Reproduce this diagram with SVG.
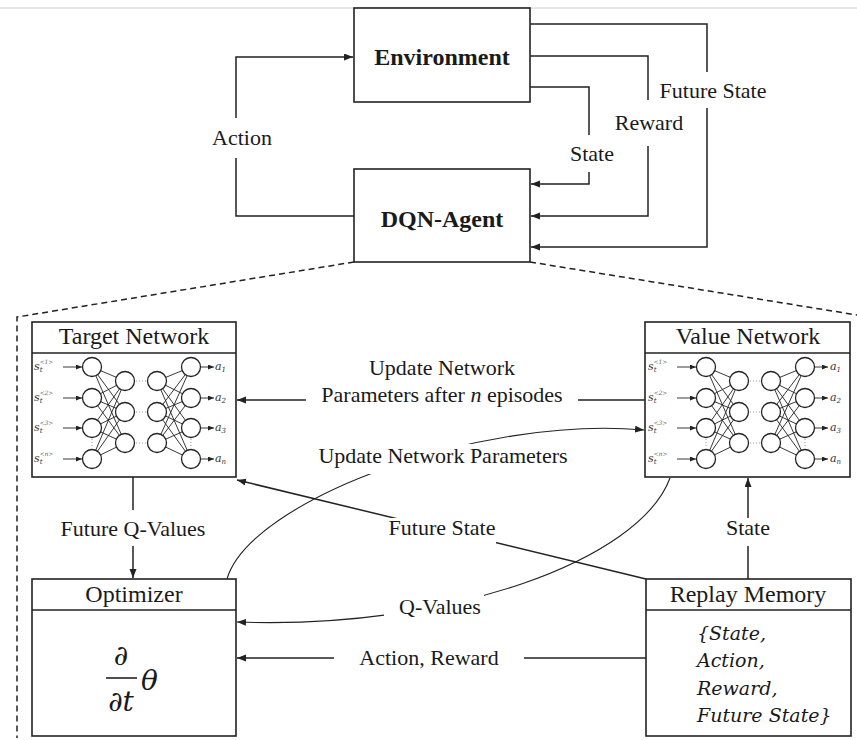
<svg xmlns="http://www.w3.org/2000/svg" xmlns:xlink="http://www.w3.org/1999/xlink" width="857" height="740" viewBox="0 0 857 740">
<style>
.box{fill:#fff;stroke:#222;stroke-width:1.6}
.ln{fill:none;stroke:#222;stroke-width:1.5}
.cv{fill:none;stroke:#222;stroke-width:1.1}
.dash{fill:none;stroke:#222;stroke-width:1.5;stroke-dasharray:6 4}
.t{font-family:"Liberation Serif","Times New Roman",serif;font-size:22px;fill:#1a1a1a;text-anchor:middle}
.ti{font-family:"Liberation Serif","Times New Roman",serif;font-size:24px;fill:#1a1a1a;text-anchor:middle}
.tb{font-family:"Liberation Serif","Times New Roman",serif;font-size:24px;font-weight:bold;fill:#1a1a1a;text-anchor:middle}
.ri{font-family:"DejaVu Serif",serif;font-size:19px;font-style:italic;fill:#1a1a1a}
.m{font-family:"DejaVu Serif",serif;font-size:28px;fill:#1a1a1a}
.nl{font-family:"DejaVu Serif",serif;font-size:11px;font-style:italic;fill:#333}
.sb{font-size:7px}
.sp{font-size:6px;fill:#666}
.bg{fill:#fff;stroke:none}
.nc{fill:none;stroke:#222;stroke-width:0.9}
.cir{fill:#fff;stroke:#222;stroke-width:1.3}
.dot{fill:none;stroke:#999;stroke-width:1;stroke-dasharray:1 2}
</style>
<defs>
<marker id="ah" markerUnits="userSpaceOnUse" markerWidth="10" markerHeight="8" refX="9" refY="3.5" orient="auto"><path d="M0,0 L9,3.5 L0,7 z" fill="#222"/></marker>
<marker id="as" markerUnits="userSpaceOnUse" markerWidth="7" markerHeight="6" refX="6" refY="2.5" orient="auto"><path d="M0,0 L6,2.5 L0,5 z" fill="#222"/></marker>
<g id="nn">
<path class="nc" d="M60 45L93 59M60 45L93 90M60 45L93 121M60 76L93 59M60 76L93 90M60 76L93 121M60 106L93 59M60 106L93 90M60 106L93 121M60 137L93 59M60 137L93 90M60 137L93 121M125 59L159 45M125 59L159 76M125 59L159 106M125 59L159 137M125 90L159 45M125 90L159 76M125 90L159 106M125 90L159 137M125 121L159 45M125 121L159 76M125 121L159 106M125 121L159 137"/>
<path class="dot" d="M104 59H115M104 90H115M104 121H115M60 117V126M159 117V126"/>
<circle class="cir" cx="60" cy="45" r="9.5"/><circle class="cir" cx="60" cy="76" r="9.5"/><circle class="cir" cx="60" cy="106" r="9.5"/><circle class="cir" cx="60" cy="137" r="9.5"/>
<circle class="cir" cx="93" cy="59" r="9.5"/><circle class="cir" cx="93" cy="90" r="9.5"/><circle class="cir" cx="93" cy="121" r="9.5"/>
<circle class="cir" cx="125" cy="59" r="9.5"/><circle class="cir" cx="125" cy="90" r="9.5"/><circle class="cir" cx="125" cy="121" r="9.5"/>
<circle class="cir" cx="159" cy="45" r="9.5"/><circle class="cir" cx="159" cy="76" r="9.5"/><circle class="cir" cx="159" cy="106" r="9.5"/><circle class="cir" cx="159" cy="137" r="9.5"/>
<path class="nc" stroke-width="1.2" marker-end="url(#as)" d="M31 45H50"/>
<path class="nc" stroke-width="1.2" marker-end="url(#as)" d="M31 76H50"/>
<path class="nc" stroke-width="1.2" marker-end="url(#as)" d="M31 106H50"/>
<path class="nc" stroke-width="1.2" marker-end="url(#as)" d="M31 137H50"/>
<path class="nc" stroke-width="1.2" marker-end="url(#as)" d="M169 45H182"/>
<path class="nc" stroke-width="1.2" marker-end="url(#as)" d="M169 76H182"/>
<path class="nc" stroke-width="1.2" marker-end="url(#as)" d="M169 106H182"/>
<path class="nc" stroke-width="1.2" marker-end="url(#as)" d="M169 137H182"/>
</g>
</defs>
<rect width="857" height="740" fill="#fff"/>
<line x1="0" y1="8" x2="857" y2="8" stroke="#ccc" stroke-width="1"/>

<g id="connectors">
<path class="ln" d="M354 216H236V158"/>
<path class="ln" marker-end="url(#ah)" d="M236 118V57H353"/>
<path class="ln" d="M530 24H707V72"/>
<path class="ln" marker-end="url(#ah)" d="M707 108V247H531"/>
<path class="ln" d="M530 56H648V100"/>
<path class="ln" marker-end="url(#ah)" d="M648 146V216H531"/>
<path class="ln" d="M530 87H589V135"/>
<path class="ln" marker-end="url(#ah)" d="M589 172V184H531"/>
<path class="dash" d="M354 262L17 317V738"/>
<path class="dash" d="M530 262L857 315"/>
<path class="ln" marker-end="url(#ah)" d="M133 477V578"/>
<path class="ln" marker-end="url(#ah)" d="M645 400H237"/>
<path class="cv" marker-end="url(#ah)" d="M227 579C250 500 480 415 644 430"/>
<path class="ln" marker-end="url(#ah)" d="M646 579L237 480"/>
<path class="cv" marker-end="url(#ah)" d="M670 478C640 560 450 630 237 622"/>
<path class="ln" marker-end="url(#ah)" d="M748 579V478"/>
<path class="ln" marker-end="url(#ah)" d="M646 658H237"/>
</g>

<g id="labels">
<rect class="bg" x="206" y="118" width="72" height="40"/>
<text class="t" x="242" y="145">Action</text>
<rect class="bg" x="655" y="72" width="116" height="36"/>
<text class="t" x="713" y="98">Future State</text>
<rect class="bg" x="610" y="100" width="78" height="46"/>
<text class="t" x="649" y="130">Reward</text>
<rect class="bg" x="566" y="135" width="52" height="37"/>
<text class="t" x="592" y="161">State</text>
<rect class="bg" x="56" y="510" width="154" height="36"/>
<text class="t" x="133" y="536">Future Q-Values</text>
<rect class="bg" x="306" y="356" width="272" height="52"/>
<text class="t" x="442" y="375">Update Network</text>
<text class="t" x="442" y="402">Parameters after <tspan font-style="italic">n</tspan> episodes</text>
<rect class="bg" x="310" y="444" width="266" height="30"/>
<text class="t" x="443" y="463">Update Network Parameters</text>
<rect class="bg" x="378" y="518" width="118" height="26"/>
<text class="t" x="442" y="535">Future State</text>
<rect class="bg" x="722" y="518" width="52" height="28"/>
<text class="t" x="748" y="535">State</text>
<rect class="bg" x="384" y="592" width="100" height="36"/>
<text class="t" x="440" y="614">Q-Values</text>
<rect class="bg" x="334" y="644" width="190" height="28"/>
<text class="t" x="429" y="665" font-size="23">Action, Reward</text>
</g>

<g id="environment">
<rect class="box" x="354" y="8" width="176" height="94"/>
<text class="tb" x="442" y="65">Environment</text>
</g>

<g id="dqn-agent">
<rect class="box" x="354" y="169" width="176" height="93"/>
<text class="tb" x="442" y="227">DQN-Agent</text>
</g>

<g id="target-network">
<rect class="box" x="32" y="322" width="204" height="155"/>
<line x1="32" y1="353" x2="236" y2="353" stroke="#222" stroke-width="1.6"/>
<text class="ti" x="134" y="344">Target Network</text>
<use xlink:href="#nn" href="#nn" x="32" y="322"/>
<text class="nl" x="34" y="370">s<tspan class="sb" dy="2">t</tspan><tspan class="sp" dx="-3" dy="-8">&lt;1&gt;</tspan></text>
<text class="nl" x="34" y="401">s<tspan class="sb" dy="2">t</tspan><tspan class="sp" dx="-3" dy="-8">&lt;2&gt;</tspan></text>
<text class="nl" x="34" y="431">s<tspan class="sb" dy="2">t</tspan><tspan class="sp" dx="-3" dy="-8">&lt;3&gt;</tspan></text>
<text class="nl" x="34" y="462">s<tspan class="sb" dy="2">t</tspan><tspan class="sp" dx="-3" dy="-8">&lt;n&gt;</tspan></text>
<text class="nl" x="215" y="370">a<tspan class="sb" dy="2">1</tspan></text>
<text class="nl" x="215" y="401">a<tspan class="sb" dy="2">2</tspan></text>
<text class="nl" x="215" y="431">a<tspan class="sb" dy="2">3</tspan></text>
<text class="nl" x="215" y="462">a<tspan class="sb" dy="2">n</tspan></text>
</g>

<g id="value-network">
<rect class="box" x="645" y="322" width="205" height="155"/>
<line x1="645" y1="353" x2="850" y2="353" stroke="#222" stroke-width="1.6"/>
<text class="ti" x="748" y="344">Value Network</text>
<use xlink:href="#nn" href="#nn" x="646" y="322"/>
<text class="nl" x="648" y="370">s<tspan class="sb" dy="2">t</tspan><tspan class="sp" dx="-3" dy="-8">&lt;1&gt;</tspan></text>
<text class="nl" x="648" y="401">s<tspan class="sb" dy="2">t</tspan><tspan class="sp" dx="-3" dy="-8">&lt;2&gt;</tspan></text>
<text class="nl" x="648" y="431">s<tspan class="sb" dy="2">t</tspan><tspan class="sp" dx="-3" dy="-8">&lt;3&gt;</tspan></text>
<text class="nl" x="648" y="462">s<tspan class="sb" dy="2">t</tspan><tspan class="sp" dx="-3" dy="-8">&lt;n&gt;</tspan></text>
<text class="nl" x="830" y="370">a<tspan class="sb" dy="2">1</tspan></text>
<text class="nl" x="830" y="401">a<tspan class="sb" dy="2">2</tspan></text>
<text class="nl" x="830" y="431">a<tspan class="sb" dy="2">3</tspan></text>
<text class="nl" x="830" y="462">a<tspan class="sb" dy="2">n</tspan></text>
</g>

<g id="optimizer">
<rect class="box" x="32" y="579" width="204" height="157"/>
<line x1="32" y1="610" x2="236" y2="610" stroke="#222" stroke-width="1.6"/>
<text class="ti" x="134" y="602">Optimizer</text>
<text class="m" x="121" y="665" text-anchor="middle">∂</text>
<line x1="106" y1="678" x2="137" y2="678" stroke="#222" stroke-width="1.6"/>
<text class="m" x="121" y="711" text-anchor="middle">∂<tspan font-style="italic">t</tspan></text>
<text class="m" x="141" y="690" font-size="30" font-style="italic">θ</text>
</g>

<g id="replay-memory">
<rect class="box" x="646" y="579" width="205" height="157"/>
<line x1="646" y1="610" x2="851" y2="610" stroke="#222" stroke-width="1.6"/>
<text class="ti" x="748" y="602">Replay Memory</text>
<text class="ri" x="697" y="640">{State,</text>
<text class="ri" x="697" y="667">Action,</text>
<text class="ri" x="697" y="695">Reward,</text>
<text class="ri" x="697" y="722">Future State}</text>
</g>
</svg>
